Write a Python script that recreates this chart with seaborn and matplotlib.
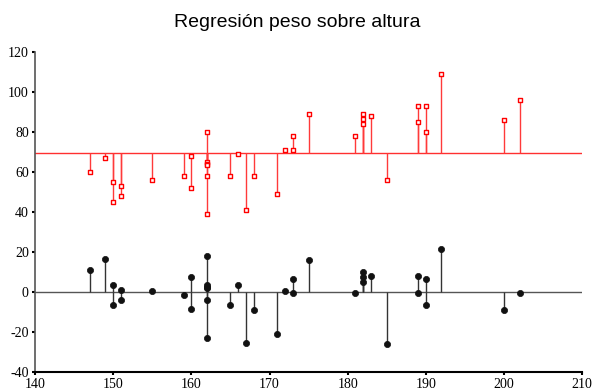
import matplotlib
matplotlib.use("Agg")
import matplotlib.pyplot as plt
import seaborn as sns
import pandas as pd

# Heights (cm)
altura = [147, 149, 150, 150, 151, 151, 155, 159, 160, 160,
          162, 162, 162, 162, 162, 162, 165, 166, 167, 168,
          171, 172, 173, 173, 175, 181, 182, 182, 182, 183,
          185, 189, 189, 190, 190, 192, 200, 202]
# Weights (kg)
peso = [60, 67, 55, 45, 53, 48, 56, 58, 68, 52,
        80, 65, 64, 63.3, 58, 39, 58, 69, 41, 58,
        49, 71, 71, 78, 89, 78, 89, 86.5, 84, 88,
        56, 93, 85, 93, 80, 109, 86, 96]
# Residuals of the regression
residuo = [11.2, 16.3, 3.7, -6.3, 0.8, -4.2, 0.3, -1.3, 7.7, -8.3,
           18, 3.7, 2.7, 2, -4.2, -23, -6.3, 3.7, -25.3, -9.2,
           -20.8, 0.3, -0.5, 6.7, 16, -0.5, 10.2, 7.7, 5.2, 7.8,
           -25.8, 7.8, -0.5, 6.7, -6.3, 21.3, -9.2, -0.5]
media_peso = 69.3

x_ticks = [140, 150, 160, 170, 180, 190, 200, 210]
y_ticks = [-40, -20, 0, 20, 40, 60, 80, 100, 120]

df = pd.DataFrame({"altura": altura, "peso": peso, "residuo": residuo})

sns.set_style("white")
plt.rcParams["axes.unicode_minus"] = False
fig = plt.figure(figsize=(5.94, 3.9), dpi=100)
ax = fig.add_axes([0.059, 0.046, 0.921, 0.821])

# Reference lines
ax.axhline(media_peso, color="#ff3030", lw=1.0, zorder=1)
ax.axhline(0, color="#555555", lw=1.0, zorder=1)

# Stems
ax.vlines(df["altura"], media_peso, df["peso"], color="#ff3a3a", lw=1.0, zorder=2)
ax.vlines(df["altura"], 0, df["residuo"], color="#333333", lw=1.0, zorder=2)

# Markers
sns.scatterplot(data=df, x="altura", y="peso", ax=ax, marker="s", s=10,
                facecolor="white", edgecolor="red", linewidth=1.0, zorder=3)
sns.scatterplot(data=df, x="altura", y="residuo", ax=ax, marker="o", s=20,
                color="#111111", edgecolor="#111111", linewidth=0.5, zorder=3)

ax.set_xlim(140, 210)
ax.set_ylim(-40, 120)
ax.set_xticks(x_ticks)
ax.set_yticks(y_ticks)
ax.set_xlabel("")
ax.set_ylabel("")

for lab in ax.get_xticklabels() + ax.get_yticklabels():
    lab.set_fontfamily("Liberation Serif")
    lab.set_fontsize(10)
    lab.set_color("black")

ax.tick_params(axis="both", direction="out", length=2.5, width=1.5,
               color="black", pad=2, left=True, bottom=True)

sns.despine(ax=ax)
ax.spines["left"].set_color("#555555")
ax.spines["left"].set_linewidth(1.2)
ax.spines["bottom"].set_color("black")
ax.spines["bottom"].set_linewidth(1.5)

fig.suptitle("Regresión peso sobre altura", fontfamily="Liberation Sans",
             fontsize=14, y=0.965, color="black")

fig.savefig("out.png", dpi=100)
